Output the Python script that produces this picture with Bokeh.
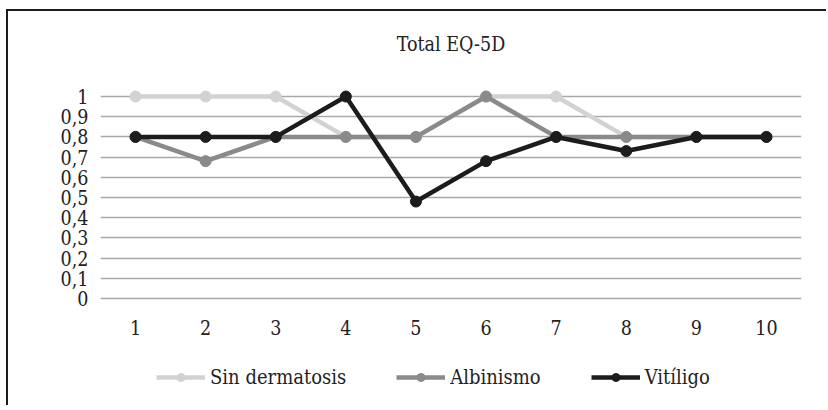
from bokeh.plotting import figure
from bokeh.models import Range1d, FixedTicker, Legend, LegendItem
from bokeh.layouts import column
from bokeh.embed import file_html
from bokeh.resources import INLINE

categories = [1, 2, 3, 4, 5, 6, 7, 8, 9, 10]
sin_dermatosis = [1.0, 1.0, 1.0, 0.8, 0.8, 1.0, 1.0, 0.8, 0.8, 0.8]
albinismo = [0.8, 0.68, 0.8, 0.8, 0.8, 1.0, 0.8, 0.8, 0.8, 0.8]
vitiligo = [0.8, 0.8, 0.8, 1.0, 0.48, 0.68, 0.8, 0.73, 0.8, 0.8]
y_ticks = [0, 0.1, 0.2, 0.3, 0.4, 0.5, 0.6, 0.7, 0.8, 0.9, 1]
y_tick_labels = ["0", "0,1", "0,2", "0,3", "0,4", "0,5", "0,6", "0,7", "0,8", "0,9", "1"]
series_names = ["Sin dermatosis", "Albinismo", "Vitíligo"]
series_colors = ["#d2d2d2", "#8a8a8a", "#1c1c1c"]

FONT = "DejaVu Serif Condensed"
TXT = "#222222"

p = figure(frame_width=701, frame_height=231, x_range=Range1d(0.5, 10.5), y_range=Range1d(-0.02, 1.124),
           output_backend="svg", toolbar_location=None,
           min_border_left=92, min_border_right=27, min_border_top=60, min_border_bottom=45,
           title="Total EQ-5D")
p.outline_line_color = None
p.title.align = "center"
p.title.text_font = FONT
p.title.text_font_style = "normal"
p.title.text_font_size = "19.5px"
p.title.text_color = TXT
p.title.standoff = 31

p.xgrid.grid_line_color = None
p.ygrid.grid_line_color = "#a8a8a8"
p.ygrid.grid_line_width = 1.5
p.ygrid.ticker = FixedTicker(ticks=y_ticks)

p.yaxis.ticker = FixedTicker(ticks=y_ticks)
p.yaxis.major_label_overrides = {t: l for t, l in zip(y_ticks, y_tick_labels)}
p.xaxis.ticker = FixedTicker(ticks=categories)
for ax in (p.xaxis[0], p.yaxis[0]):
    ax.axis_line_color = None
    ax.major_tick_line_color = None
    ax.minor_tick_line_color = None
    ax.major_label_text_font = FONT
    ax.major_label_text_font_size = "19.5px"
    ax.major_label_text_color = TXT
p.yaxis.major_label_standoff = 6
p.xaxis.major_label_standoff = 11

series_values = [sin_dermatosis, albinismo, vitiligo]
for vals, col in zip(series_values, series_colors):
    p.line(categories, vals, line_color=col, line_width=4.5)
    p.scatter(categories, vals, size=11, fill_color=col, line_color=col)

# legend strip (separate figure so the legend sits below the axis)
q = figure(width=820, height=60, x_range=Range1d(100, 101), y_range=Range1d(100, 101),
           output_backend="svg", toolbar_location=None,
           x_axis_location=None, y_axis_location=None, min_border=0)
q.outline_line_color = None
q.grid.visible = False
items = []
for name, vals, col in zip(series_names, series_values, series_colors):
    ln = q.line(categories, vals, line_color=col, line_width=4.5)
    sc = q.scatter(categories, vals, size=11, fill_color=col, line_color=col)
    items.append(LegendItem(label=name, renderers=[ln, sc]))
legend = Legend(items=items, orientation="horizontal", border_line_color=None,
                background_fill_alpha=0, location="left",
                label_text_font=FONT, label_text_font_size="20px", label_text_color=TXT,
                glyph_width=49, spacing=50, margin=56, padding=0, label_standoff=5)
q.add_layout(legend, "center")

layout = column(p, q, spacing=0)
layout.styles = {"margin-left": "8px", "margin-top": "11px",
                 "box-shadow": "-2px -2px 0 0 #1c1c1c"}

html = file_html(layout, INLINE)
html = html.replace("</head>", "<style>html,body{overflow:hidden;}</style></head>", 1)
open("out.html", "w").write(html)
